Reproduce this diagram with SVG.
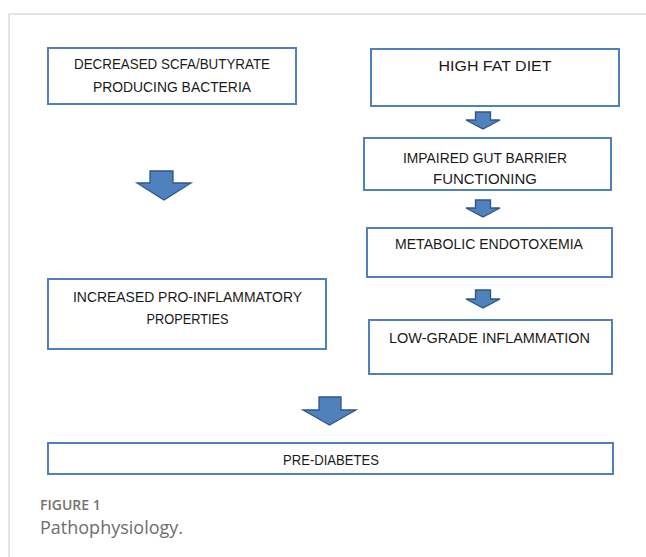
<svg xmlns="http://www.w3.org/2000/svg" width="646" height="557" viewBox="0 0 646 557">
<style>
.box{fill:#ffffff;stroke:#4f81bd;stroke-width:2}
.t{font-family:"Liberation Sans",Arial,sans-serif;font-size:15px;fill:#1a1a1a;text-anchor:middle}
.arr{fill:#4f81bd;stroke:#2f5586;stroke-width:1.3;stroke-linejoin:miter}
.frame{stroke:#dcdcdc;stroke-width:1.5;fill:none}
.cap1{font-family:"Open Sans","Liberation Sans",sans-serif;font-size:14px;font-weight:600;fill:#737373}
.cap2{font-family:"Open Sans","Liberation Sans",sans-serif;font-size:18px;fill:#6e6e6e}
</style>
<rect width="646" height="557" fill="#ffffff"/>
<path class="frame" d="M9,557 V14 H646"/>
<g id="n-decreased"><rect class="box" x="48" y="48" width="248" height="56"/>
<text class="t" x="172" y="68.5" textLength="196" lengthAdjust="spacingAndGlyphs">DECREASED SCFA/BUTYRATE</text>
<text class="t" x="172" y="91.5" textLength="158" lengthAdjust="spacingAndGlyphs">PRODUCING BACTERIA</text></g>
<g id="n-highfat"><rect class="box" x="371" y="49" width="248" height="57"/>
<text class="t" x="495" y="70.5" textLength="113" lengthAdjust="spacingAndGlyphs">HIGH FAT DIET</text></g>
<g id="n-impaired"><rect class="box" x="364" y="138" width="247" height="52"/>
<text class="t" x="485" y="162.5" textLength="164" lengthAdjust="spacingAndGlyphs">IMPAIRED GUT BARRIER</text>
<text class="t" x="485" y="183.5" textLength="104" lengthAdjust="spacingAndGlyphs">FUNCTIONING</text></g>
<g id="n-metabolic"><rect class="box" x="367" y="228" width="245" height="49"/>
<text class="t" x="489" y="248.5" textLength="188" lengthAdjust="spacingAndGlyphs">METABOLIC ENDOTOXEMIA</text></g>
<g id="n-lowgrade"><rect class="box" x="369" y="320" width="243" height="54"/>
<text class="t" x="489.5" y="342.5" textLength="201" lengthAdjust="spacingAndGlyphs">LOW-GRADE INFLAMMATION</text></g>
<g id="n-increased"><rect class="box" x="48" y="279" width="278" height="70"/>
<text class="t" x="187.5" y="301.5" textLength="229" lengthAdjust="spacingAndGlyphs">INCREASED PRO-INFLAMMATORY</text>
<text class="t" x="187.5" y="323.5" textLength="82" lengthAdjust="spacingAndGlyphs">PROPERTIES</text></g>
<g id="n-prediabetes"><rect class="box" x="48" y="443" width="565" height="31"/>
<text class="t" x="331" y="464.5" textLength="96" lengthAdjust="spacingAndGlyphs">PRE-DIABETES</text></g>
<g id="connectors">
<polygon class="arr" points="150,171 173,171 173,183 191,183 164,200 137,183 150,183"/>
<polygon class="arr" points="475.5,112 490.5,112 490.5,120 500,120 483,129 466,120 475.5,120"/>
<polygon class="arr" points="475.5,200 490.5,200 490.5,208 500,208 483,217 466,208 475.5,208"/>
<polygon class="arr" points="475.5,290 490.5,290 490.5,299 500,299 483,308 466,299 475.5,299"/>
<polygon class="arr" points="319,397 341,397 341,410 356,410 329.5,425 303,410 319,410"/>
</g>
<text class="cap1" x="40" y="510">FIGURE 1</text>
<text class="cap2" x="40" y="534">Pathophysiology.</text>
</svg>
